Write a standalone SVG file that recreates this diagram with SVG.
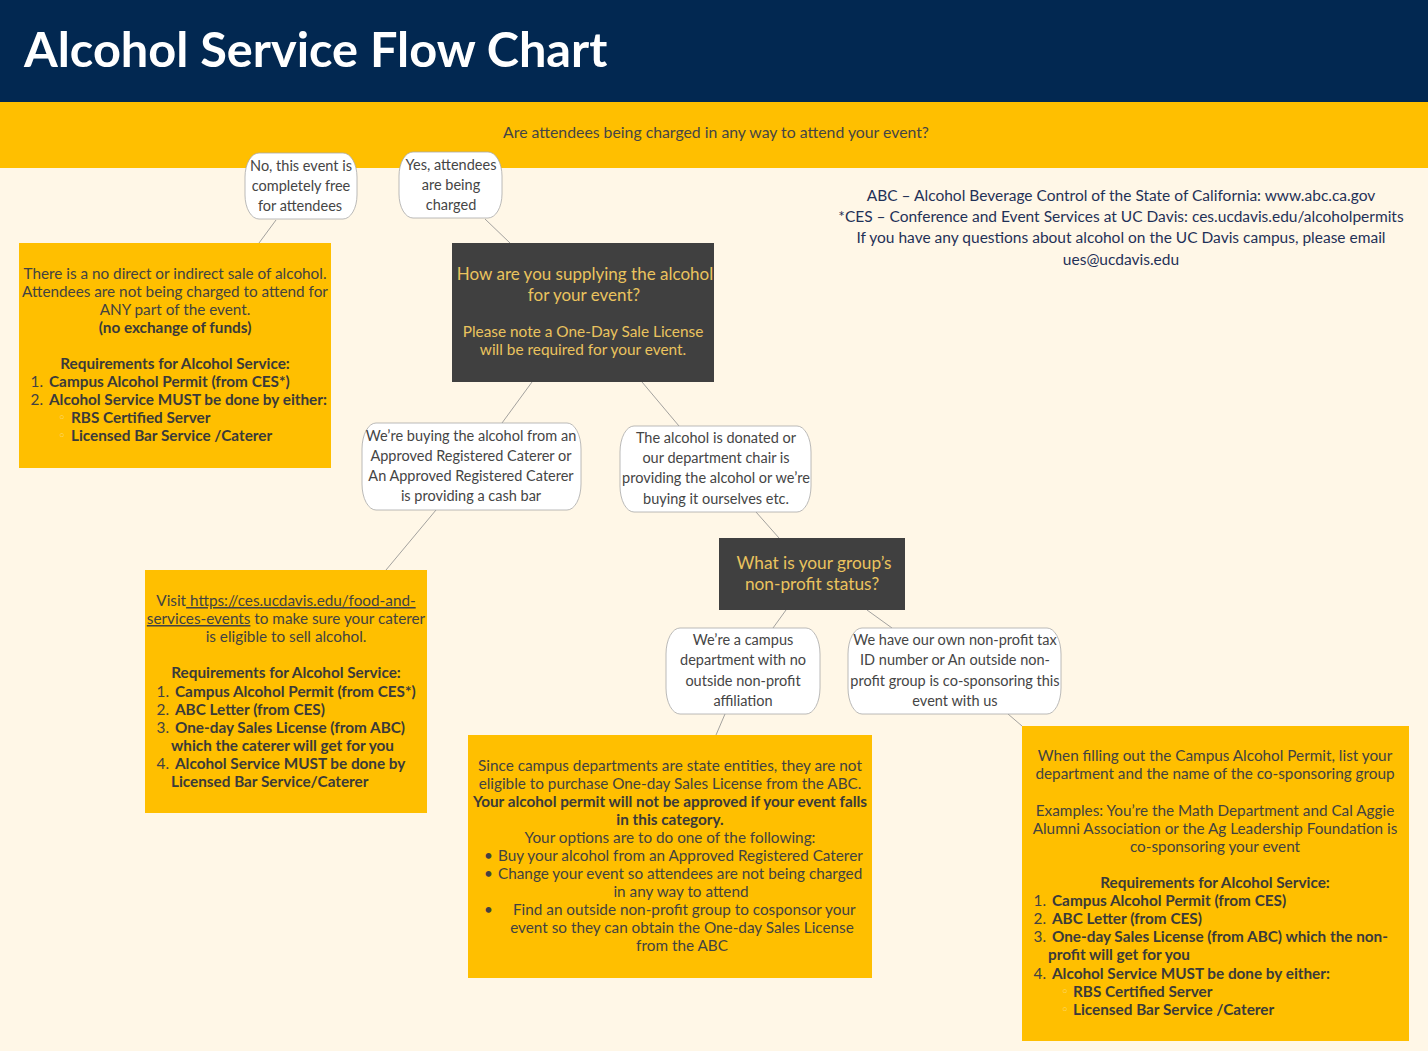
<svg xmlns="http://www.w3.org/2000/svg" width="1428" height="1051" viewBox="0 0 1428 1051">
<style>
text { font-family: Lato, "Liberation Sans", sans-serif; }
.title { font-size: 48.7px; font-weight: bold; fill: #ffffff; }
.q { font-size: 15.8px; fill: #454545; text-anchor: middle; }
.body { font-size: 15.3px; fill: #424242; }
.c { text-anchor: middle; }
.e { text-anchor: end; }
.bold { font-weight: bold; fill: #3a3a3a; }
.circ { fill: #fbdc82; font-family: "DejaVu Sans", sans-serif; font-size: 13px; }
.ybox { fill: #FFBF00; }
.dbox { fill: #404040; }
.gold { fill: #EAC35E; text-anchor: middle; }
.bub { fill: #ffffff; stroke: #a8a8a8; stroke-width: 0.8; }
.bt { font-size: 14.5px; fill: #454545; text-anchor: middle; }
.navy { font-size: 15.5px; fill: #1f3157; text-anchor: middle; }
#connectors line { stroke: #8c8c8c; stroke-width: 0.8; }
</style>
<rect x="0" y="0" width="1428" height="1051" fill="#FFF7E7"/>
<g id="header">
<rect x="0" y="0" width="1428" height="102" fill="#022851"/>
<text class="title" x="24" y="67">Alcohol Service Flow Chart</text>
</g>
<g id="question">
<rect x="0" y="102" width="1428" height="66" fill="#FFBF00"/>
<text class="q" x="716" y="138">Are attendees being charged in any way to attend your event?</text>
</g>
<g id="notes">
<text class="navy" x="1121" y="201">ABC – Alcohol Beverage Control of the State of California: www.abc.ca.gov</text>
<text class="navy" x="1121" y="222">*CES – Conference and Event Services at UC Davis: ces.ucdavis.edu/alcoholpermits</text>
<text class="navy" x="1121" y="243">If you have any questions about alcohol on the UC Davis campus, please email</text>
<text class="navy" x="1121" y="265">ues@ucdavis.edu</text>
</g>
<g id="connectors">
<line x1="276" y1="220" x2="259" y2="243"/>
<line x1="485" y1="219" x2="510" y2="243"/>
<line x1="532" y1="382" x2="502" y2="423"/>
<line x1="642" y1="382" x2="679" y2="426"/>
<line x1="436" y1="510" x2="386" y2="570"/>
<line x1="756" y1="512" x2="779" y2="538"/>
<line x1="786" y1="610" x2="773" y2="628"/>
<line x1="867" y1="610" x2="892" y2="628"/>
<line x1="725" y1="714" x2="716" y2="735"/>
<line x1="1008" y1="714" x2="1022" y2="726"/>
</g>
<g id="free">
<rect class="bub" x="245" y="153" width="112" height="66" rx="14" ry="24"/>
<text class="bt" x="301" y="171">No, this event is</text>
<text class="bt" x="301" y="191">completely free</text>
<text class="bt" x="300" y="211">for attendees</text>
</g>
<g id="charged">
<rect class="bub" x="399" y="152" width="103" height="66" rx="14" ry="24"/>
<text class="bt" x="451" y="170">Yes, attendees</text>
<text class="bt" x="451" y="190">are being</text>
<text class="bt" x="451" y="210">charged</text>
</g>
<g id="no-sale">
<rect class="ybox" x="19" y="243" width="312" height="225"/>
<text class="body c" x="175" y="279">There is a no direct or indirect sale of alcohol.</text>
<text class="body c" x="175" y="297">Attendees are not being charged to attend for</text>
<text class="body c" x="175" y="315">ANY part of the event.</text>
<text class="body c bold" x="175" y="333">(no exchange of funds)</text>
<text class="body c bold" x="175" y="369">Requirements for Alcohol Service:</text>
<text class="body e" x="43" y="387">1.</text>
<text class="body bold" x="49" y="387">Campus Alcohol Permit (from CES*)</text>
<text class="body e" x="43" y="405">2.</text>
<text class="body bold" x="49" y="405">Alcohol Service MUST be done by either:</text>
<text class="circ" x="58" y="422">◦</text>
<text class="body bold" x="71" y="423">RBS Certified Server</text>
<text class="circ" x="58" y="440">◦</text>
<text class="body bold" x="71" y="441">Licensed Bar Service /Caterer</text>
</g>
<g id="supply">
<rect class="dbox" x="452" y="243" width="262" height="139"/>
<text class="gold" x="585" y="280" font-size="17">How are you supplying the alcohol</text>
<text class="gold" x="584" y="301" font-size="17">for your event?</text>
<text class="gold" x="583" y="337" font-size="15.4">Please note a One-Day Sale License</text>
<text class="gold" x="583" y="355" font-size="15.4">will be required for your event.</text>
</g>
<g id="caterer">
<rect class="bub" x="362" y="423" width="219" height="87" rx="14" ry="26"/>
<text class="bt" x="471" y="441">We’re buying the alcohol from an</text>
<text class="bt" x="471" y="461">Approved Registered Caterer or</text>
<text class="bt" x="471" y="481">An Approved Registered Caterer</text>
<text class="bt" x="471" y="501">is providing a cash bar</text>
</g>
<g id="donated">
<rect class="bub" x="620" y="426" width="191" height="86" rx="14" ry="26"/>
<text class="bt" x="716" y="443">The alcohol is donated or</text>
<text class="bt" x="716" y="463">our department chair is</text>
<text class="bt" x="716" y="483">providing the alcohol or we’re</text>
<text class="bt" x="716" y="504">buying it ourselves etc.</text>
</g>
<g id="caterer-req">
<rect class="ybox" x="145" y="570" width="282" height="243"/>
<text class="body c" x="286" y="606">Visit<tspan text-decoration="underline"> https://ces.ucdavis.edu/food-and-</tspan></text>
<text class="body c" x="286" y="624"><tspan text-decoration="underline">services-events</tspan> to make sure your caterer</text>
<text class="body c" x="286" y="642">is eligible to sell alcohol.</text>
<text class="body c bold" x="286" y="678">Requirements for Alcohol Service:</text>
<text class="body e" x="169" y="697">1.</text>
<text class="body bold" x="175" y="697">Campus Alcohol Permit (from CES*)</text>
<text class="body e" x="169" y="715">2.</text>
<text class="body bold" x="175" y="715">ABC Letter (from CES)</text>
<text class="body e" x="169" y="733">3.</text>
<text class="body bold" x="175" y="733">One-day Sales License (from ABC)</text>
<text class="body bold" x="171" y="751">which the caterer will get for you</text>
<text class="body e" x="169" y="769">4.</text>
<text class="body bold" x="175" y="769">Alcohol Service MUST be done by</text>
<text class="body bold" x="171" y="787">Licensed Bar Service/Caterer</text>
</g>
<g id="nonprofit">
<rect class="dbox" x="719" y="538" width="186" height="72"/>
<text class="gold" x="814" y="569" font-size="17.3">What is your group’s</text>
<text class="gold" x="812" y="590" font-size="17.3">non-profit status?</text>
</g>
<g id="campus-dept">
<rect class="bub" x="666" y="628" width="154" height="86" rx="14" ry="26"/>
<text class="bt" x="743" y="645">We’re a campus</text>
<text class="bt" x="743" y="665">department with no</text>
<text class="bt" x="743" y="686">outside non-profit</text>
<text class="bt" x="743" y="706">affiliation</text>
</g>
<g id="own-nonprofit">
<rect class="bub" x="848" y="628" width="213" height="86" rx="14" ry="26"/>
<text class="bt" x="955" y="645">We have our own non-profit tax</text>
<text class="bt" x="955" y="665">ID number or An outside non-</text>
<text class="bt" x="955" y="686">profit group is co-sponsoring this</text>
<text class="bt" x="955" y="706">event with us</text>
</g>
<g id="not-eligible">
<rect class="ybox" x="468" y="735" width="404" height="243"/>
<text class="body c" x="670" y="771">Since campus departments are state entities, they are not</text>
<text class="body c" x="670" y="789">eligible to purchase One-day Sales License from the ABC.</text>
<text class="body c bold" x="670" y="807">Your alcohol permit will not be approved if your event falls</text>
<text class="body c bold" x="670" y="825">in this category.</text>
<text class="body c" x="670" y="843">Your options are to do one of the following:</text>
<text class="body" x="484" y="861">•</text>
<text class="body" x="498" y="861">Buy your alcohol from an Approved Registered Caterer</text>
<text class="body" x="484" y="879">•</text>
<text class="body" x="498" y="879">Change your event so attendees are not being charged</text>
<text class="body c" x="681" y="897">in any way to attend</text>
<text class="body" x="484" y="915">•</text>
<text class="body" x="513" y="915">Find an outside non-profit group to cosponsor your</text>
<text class="body c" x="682" y="933">event so they can obtain the One-day Sales License</text>
<text class="body c" x="682" y="951">from the ABC</text>
</g>
<g id="cosponsor">
<rect class="ybox" x="1022" y="726" width="387" height="315"/>
<text class="body c" x="1215" y="761">When filling out the Campus Alcohol Permit, list your</text>
<text class="body c" x="1215" y="779">department and the name of the co-sponsoring group</text>
<text class="body c" x="1215" y="816">Examples: You’re the Math Department and Cal Aggie</text>
<text class="body c" x="1215" y="834">Alumni Association or the Ag Leadership Foundation is</text>
<text class="body c" x="1215" y="852">co-sponsoring your event</text>
<text class="body c bold" x="1215" y="888">Requirements for Alcohol Service:</text>
<text class="body e" x="1046" y="906">1.</text>
<text class="body bold" x="1052" y="906">Campus Alcohol Permit (from CES)</text>
<text class="body e" x="1046" y="924">2.</text>
<text class="body bold" x="1052" y="924">ABC Letter (from CES)</text>
<text class="body e" x="1046" y="942">3.</text>
<text class="body bold" x="1052" y="942">One-day Sales License (from ABC) which the non-</text>
<text class="body bold" x="1048" y="960">profit will get for you</text>
<text class="body e" x="1046" y="979">4.</text>
<text class="body bold" x="1052" y="979">Alcohol Service MUST be done by either:</text>
<text class="circ" x="1061" y="996">◦</text>
<text class="body bold" x="1073" y="997">RBS Certified Server</text>
<text class="circ" x="1061" y="1014">◦</text>
<text class="body bold" x="1073" y="1015">Licensed Bar Service /Caterer</text>
</g>
</svg>
